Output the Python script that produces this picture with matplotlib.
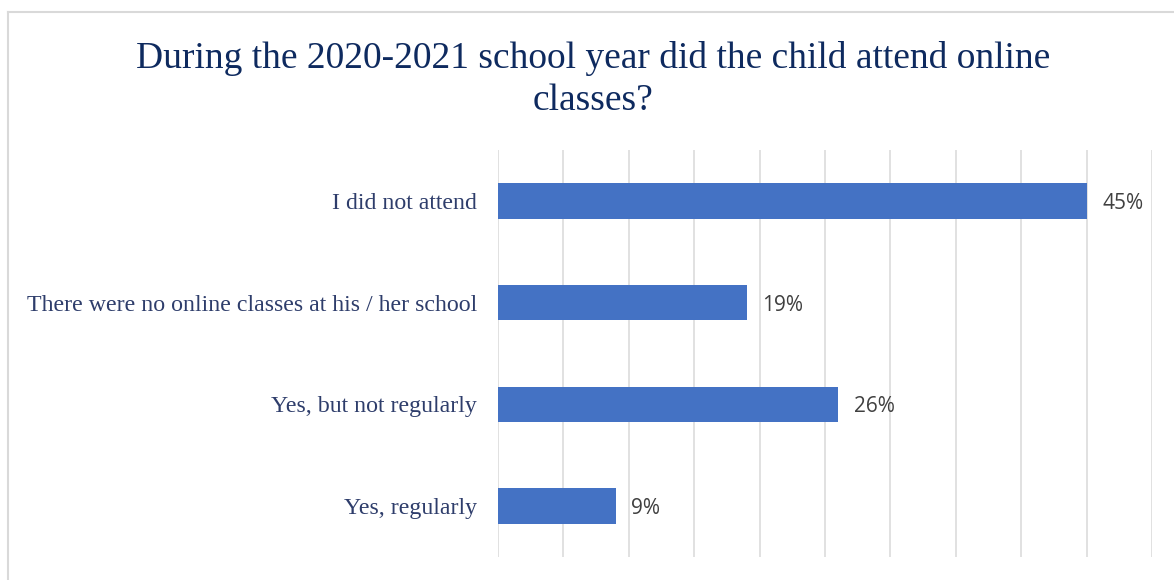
import matplotlib.pyplot as plt
from matplotlib.lines import Line2D

# survey answers, bottom to top as drawn
respuestas = ['Yes, regularly', 'Yes, but not regularly',
              'There were no online classes at his / her school', 'I did not attend']
porcentajes = [9, 26, 19, 45]
titulo = 'During the 2020-2021 school year did the child attend online\nclasses?'

fig = plt.figure(figsize=(11.74, 5.8), dpi=100)
ax = fig.add_axes([498 / 1174, 23 / 580, 654 / 1174, 407 / 580])

pos = range(len(respuestas))
ax.barh(pos, porcentajes, height=0.35, color='#4472C4', zorder=3)
for y, v in zip(pos, porcentajes):
    ax.text(v + 1.2, y, f'{v}%', va='center_baseline', ha='left', fontsize=15,
            family='Open Sans', color='#404040')

ax.set_xlim(0, 50)
ax.set_ylim(-0.5, 3.5)
ax.set_xticks(range(0, 55, 5))
ax.grid(axis='x', color='#D9D9D9', linewidth=1.1, zorder=0)
ax.tick_params(axis='x', length=0, labelbottom=False)
ax.tick_params(axis='y', length=0, pad=15)
ax.set_yticks(list(pos))
ax.set_yticklabels(respuestas, family='Liberation Serif', fontsize=17.2, color='#2E3D6B')
for s in ax.spines.values():
    s.set_visible(False)

fig.text(593 / 1174, 1 - 41 / 580, titulo, ha='center', va='top', family='Liberation Serif',
         fontsize=27, color='#0E2A5F', linespacing=1.3)

# chart frame (left and top edges)
fig.add_artist(Line2D([8 / 1174, 8 / 1174], [0, 1 - 12 / 580], color='#D9D9D9', linewidth=1.5))
fig.add_artist(Line2D([8 / 1174, 1], [1 - 12 / 580, 1 - 12 / 580], color='#D9D9D9', linewidth=1.5))

fig.savefig('out.png', dpi=100)
